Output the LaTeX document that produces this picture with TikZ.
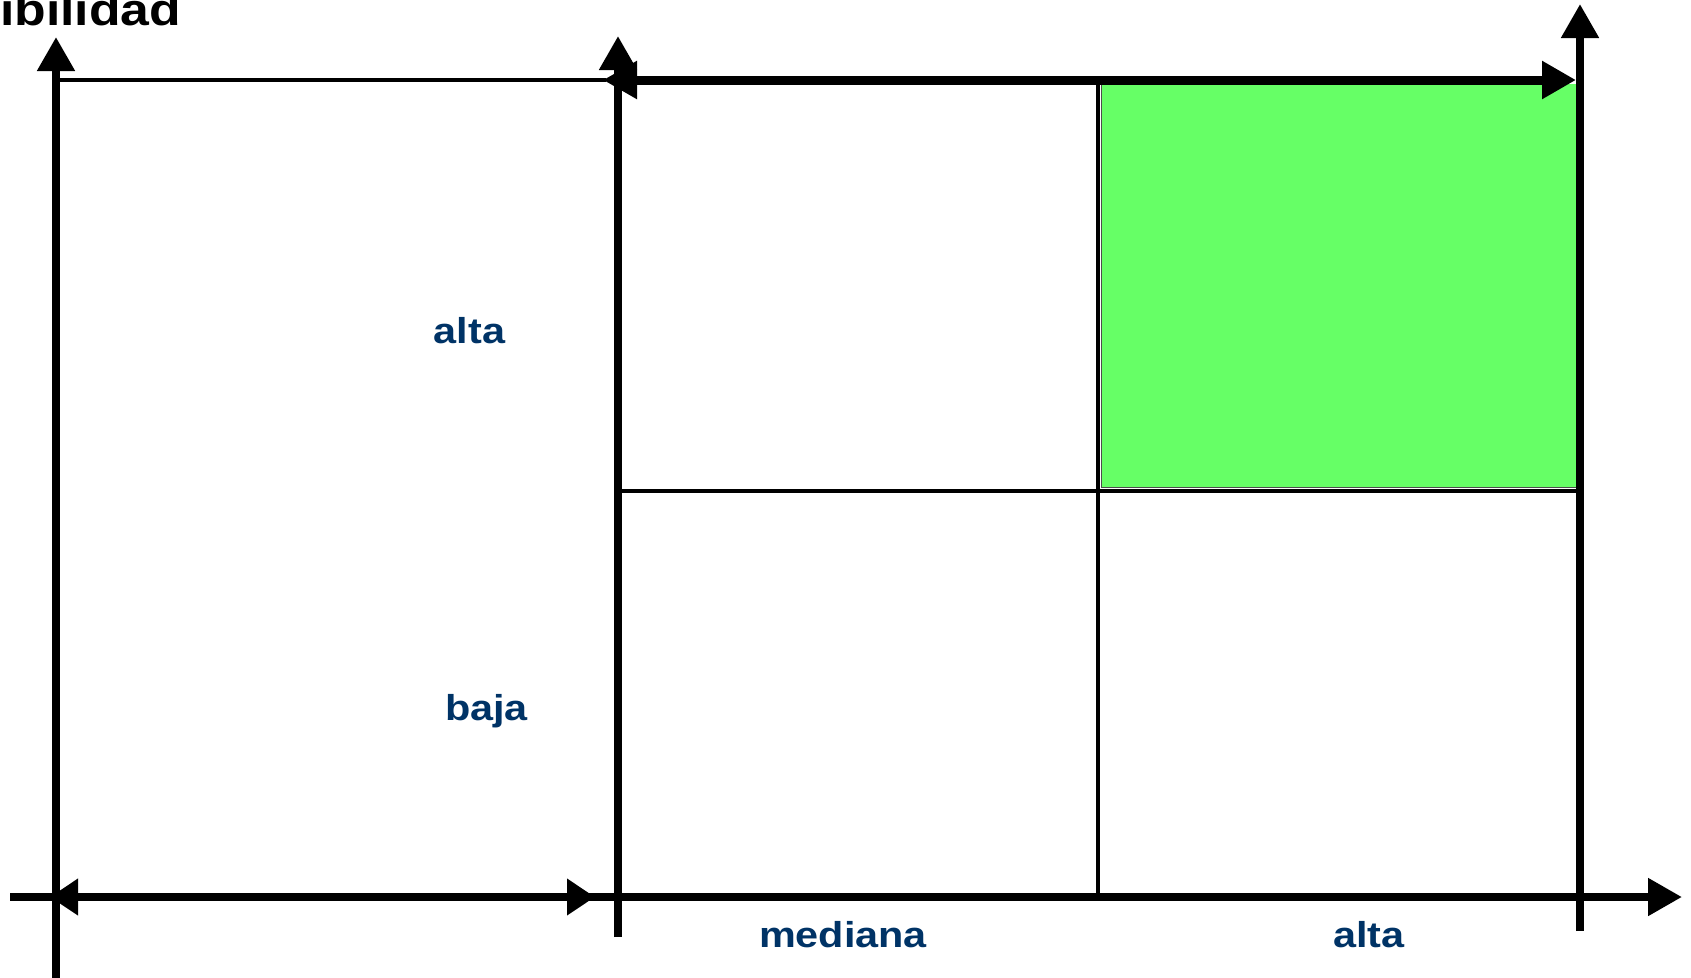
\documentclass[tikz,border=0pt]{standalone}
\usepackage{fontspec}
\setmainfont{Liberation Sans}
\usetikzlibrary{arrows.meta}
\definecolor{lblue}{RGB}{0,51,102}
\definecolor{cellgreen}{RGB}{102,255,102}
\begin{document}
\begin{tikzpicture}[x=1pt,y=-1pt,
  axisline/.style={line width=8pt, -{Triangle[length=34pt,width=36pt]}},
  twoway/.style={line width=8pt, {Triangle[length=28pt,width=35pt]}-{Triangle[length=28pt,width=35pt]}},
  topway/.style={line width=9pt, {Triangle[length=34pt,width=36pt]}-{Triangle[length=34pt,width=36pt]}},
  thinline/.style={line width=3.5pt},
  cellline/.style={line width=4.5pt},
  lbl/.style={anchor=base, inner sep=0pt, text=lblue, font=\fontsize{36}{40}\selectfont\bfseries},
  ttl/.style={anchor=base west, inner sep=0pt, text=black, font=\fontsize{45}{50}\selectfont\bfseries}]
\useasboundingbox (0,0) rectangle (1691,977);

% coordinates
\coordinate (v1b) at (56,990);
\coordinate (v1t) at (56,37);
\coordinate (v2b) at (618,937);
\coordinate (v2t) at (618,36);
\coordinate (v3b) at (1580,931);
\coordinate (v3t) at (1580,4);
\coordinate (hbL) at (10,897);
\coordinate (hbR) at (1682,897);
\coordinate (dL) at (50,897);
\coordinate (dR) at (595,897);
\coordinate (tL) at (603,80);
\coordinate (tR) at (1576,80);
\coordinate (thinL) at (60,80);
\coordinate (thinR) at (606,80);
\coordinate (midL) at (620,491);
\coordinate (midR) at (1580,491);
\coordinate (colT) at (1098,80);
\coordinate (colB) at (1098,897);

% green cell
\fill[cellgreen] (1102,84) rectangle (1577,487);
\draw[line width=1pt, black!70] (1101.5,83) -- (1101.5,487.5) -- (1577,487.5);

% grid lines
\draw[cellline] (midL) -- (midR);
\draw[cellline] (colT) -- (colB);

% thin top line
\draw[thinline] (thinL) -- (thinR);

% axes
\draw[axisline] (hbL) -- (hbR);
\draw[twoway] (dL) -- (dR);
\draw[axisline] (v1b) -- (v1t);
\draw[axisline] (v2b) -- (v2t);
\draw[axisline] (v3b) -- (v3t);
\draw[topway] (tL) -- (tR);

% labels
\node[ttl] (title) at (0,25) {\scalebox{1.15}[1]{ibilidad}};
\node[lbl] (altaY) at (469.5,343) {\scalebox{1.15}[1]{alta}};
\node[lbl] (bajaY) at (486.5,720) {\scalebox{1.15}[1]{baja}};
\node[lbl] (medX) at (843,947) {\scalebox{1.15}[1]{mediana}};
\node[lbl] (altaX) at (1369,947) {\scalebox{1.15}[1]{alta}};
\end{tikzpicture}
\end{document}
